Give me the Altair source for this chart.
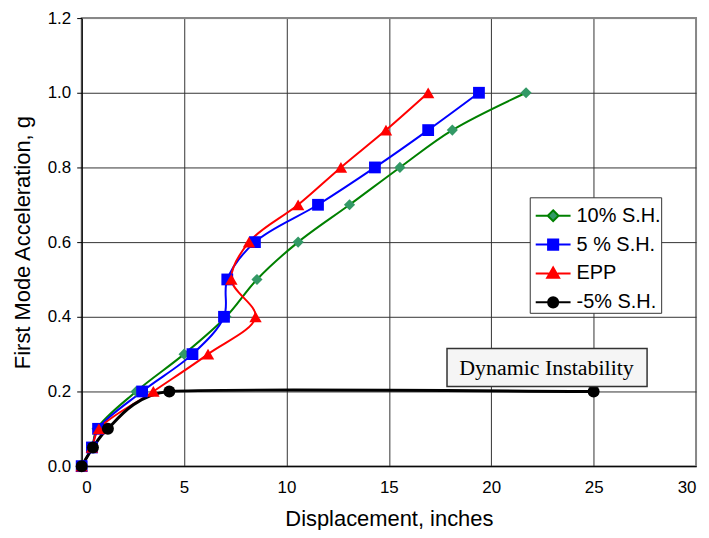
import altair as alt
import pandas as pd

# ---- data ----
series_names = ["10% S.H.", "5 % S.H.", "EPP", "-5% S.H."]

acc_levels = [0.0, 0.05, 0.1, 0.2, 0.3, 0.4, 0.5, 0.6, 0.7, 0.8, 0.9, 1.0]
disp_sh10 = [0.0, 0.5, 0.75, 2.66, 5.0, 7.05, 8.56, 10.57, 13.08, 15.54, 18.1, 21.7]
disp_sh5 = [0.0, 0.5, 0.8, 2.95, 5.41, 6.95, 7.11, 8.46, 11.54, 14.32, 16.92, 19.4]
disp_epp = [0.0, 0.5, 0.84, 3.5, 6.17, 8.49, 7.31, 8.17, 10.57, 12.66, 14.86, 16.92]
acc_neg5 = [0.0, 0.05, 0.1, 0.2, 0.2]
disp_neg5 = [0.0, 0.55, 1.28, 4.28, 25.0]

x_ticks = [0, 5, 10, 15, 20, 25, 30]
y_ticks = [0.0, 0.2, 0.4, 0.6, 0.8, 1.0, 1.2]

annotation_text = ["Dynamic Instability"]

# ---- styles ----
line_colors = ["#008000", "#0000FF", "#FF0000", "#000000"]
marker_colors = ["#339966", "#0000FF", "#FF0000", "#000000"]
marker_shapes = ["diamond", "square", "triangle-up", "circle"]
marker_sizes = [125, 140, 155, 145]

rows = []
for name, xs, ys in [
    (series_names[0], disp_sh10, acc_levels),
    (series_names[1], disp_sh5, acc_levels),
    (series_names[2], disp_epp, acc_levels),
    (series_names[3], disp_neg5, acc_neg5),
]:
    for i, (xv, yv) in enumerate(zip(xs, ys)):
        rows.append({"series": name, "disp": xv, "acc": yv, "idx": i})
df = pd.DataFrame(rows)

# annotation box (data coordinates)
annot = pd.DataFrame({
    "x": [17.84], "x2": [27.61], "y": [0.213], "y2": [0.315],
    "tx": [22.7], "ty": [0.264], "label": annotation_text,
})

FONT = "Liberation Sans"

legend_paths = {
    "10% S.H.": "M-1,0L-0.31,0M0.31,0L1,0M0,-0.31L0.31,0L0,0.31L-0.31,0Z",
    "5 % S.H.": "M-1,0L-0.29,0M0.29,0L1,0M-0.29,-0.29L0.29,-0.29L0.29,0.29L-0.29,0.29Z",
    "EPP": "M-1,0L-0.25,0M0.25,0L1,0M0,-0.34L0.34,0.24L-0.34,0.24Z",
    "-5% S.H.": "M-1,0L-0.29,0M0.29,0L1,0M0.29,0A0.29,0.29,0,1,1,-0.29,0A0.29,0.29,0,1,1,0.29,0Z",
}


def pick(mapping):
    items = list(mapping.items())
    expr = "'" + items[-1][1] + "'"
    for k, v in reversed(items[:-1]):
        expr = "datum.value === '" + k + "' ? '" + v + "' : (" + expr + ")"
    return expr


legend_fill = dict(zip(series_names, marker_colors))
legend_stroke = dict(zip(series_names, line_colors))

x_enc = alt.X(
    "disp:Q",
    scale=alt.Scale(domain=[0, 30], nice=False),
    axis=alt.Axis(
        values=x_ticks, title="Displacement, inches", ticks=False,
        labelPadding=13, labelFontSize=17, titleFontSize=22, titlePadding=14,
        gridColor={"condition": {"test": "datum.value >= 30", "value": "#888888"}, "value": "#333333"},
    ),
)
y_enc = alt.Y(
    "acc:Q",
    scale=alt.Scale(domain=[0, 1.2], nice=False),
    axis=alt.Axis(
        values=y_ticks, format=".1f", title="First Mode  Acceleration, g",
        tickSize=5, labelPadding=6, labelFontSize=17, titleFontSize=22, titlePadding=13,
        gridColor={"condition": {"test": "datum.value >= 1.19", "value": "#888888"}, "value": "#333333"},
    ),
)

color_enc = alt.Color(
    "series:N",
    scale=alt.Scale(domain=series_names, range=line_colors),
    legend=alt.Legend(
        orient="none", legendX=450, legendY=180, title=None,
        labelFont=FONT, labelFontSize=20, labelColor="black", labelLimit=300,
        labelExpr="datum.label + '\u00a0'",
        symbolSize=1225, symbolStrokeWidth=2, symbolOpacity=1, symbolOffset=5,
        symbolType=alt.ExprRef(pick(legend_paths)),
        symbolFillColor=alt.ExprRef(pick(legend_fill)),
        symbolStrokeColor=alt.ExprRef(pick(legend_stroke)),
        padding=0, rowPadding=-5, labelOffset=5,
        strokeColor="#333333", fillColor="white",
    ),
)

main_df = df[df["series"] != series_names[3]]
neg_df = df[df["series"] == series_names[3]]

lines = alt.Chart(main_df).mark_line(interpolate="catmull-rom", strokeWidth=2).encode(
    x=x_enc, y=y_enc, color=color_enc, order=alt.Order("idx:Q"),
)
line_neg = alt.Chart(neg_df).mark_line(interpolate="cardinal", tension=0.55, strokeWidth=3).encode(
    x="disp:Q", y="acc:Q", color=alt.Color("series:N"), order=alt.Order("idx:Q"),
)

point_layers = []
for name, shape, fill, size in zip(series_names, marker_shapes, marker_colors, marker_sizes):
    point_layers.append(
        alt.Chart(df[df["series"] == name]).mark_point(
            filled=True, opacity=1, shape=shape, fill=fill, size=size, strokeWidth=0
        ).encode(x="disp:Q", y="acc:Q")
    )

box = alt.Chart(annot).mark_rect(fill="#f5f5f5", stroke="#333333", strokeWidth=1.5).encode(
    x="x:Q", x2="x2:Q", y="y:Q", y2="y2:Q"
)
label = alt.Chart(annot).mark_text(
    font="Liberation Serif", fontSize=22, align="center", baseline="middle", color="black"
).encode(x="tx:Q", y="ty:Q", text="label:N")

chart = alt.layer(lines, line_neg, *point_layers, box, label).properties(
    width=617,
    height=450,
    autosize=alt.AutoSizeParams(type="none"),
    padding={"left": 74, "top": 9, "right": 5, "bottom": 63},
).configure_view(
    stroke="#888888", strokeWidth=2
).configure_axis(
    domainColor="black", tickColor="black", labelColor="black", titleColor="black",
    labelFont=FONT, titleFont=FONT, titleFontWeight="normal", gridWidth=1,
)

chart.save("out.html", embed_options={"renderer": "svg", "actions": False})
